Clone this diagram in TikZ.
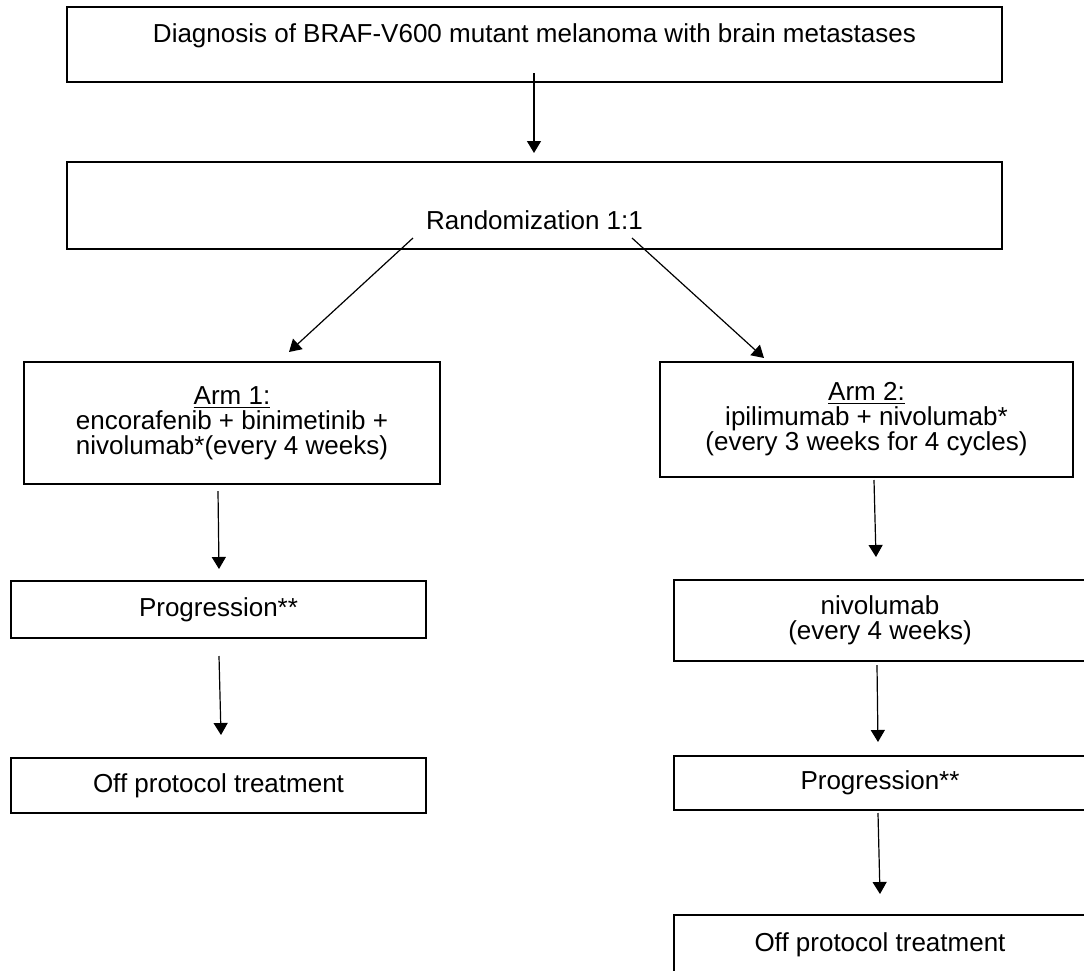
\documentclass[tikz,border=0pt]{standalone}
\usepackage{fontspec}
\setmainfont{Liberation Sans}
\usetikzlibrary{arrows.meta}

\tikzset{
	boite/.style={draw, line width=1pt, inner sep=0pt, align=center},
	fleche/.style={line width=0.6pt, -{Triangle[length=6pt,width=7pt]}}
}

\begin{document}
\begin{tikzpicture}[x=0.5pt, y=-0.5pt, font=\fontsize{13}{12.5}\selectfont]
	\useasboundingbox (0,0) rectangle (1084,971);
	\clip (0,0) rectangle (1084,971);
	% Diagnostic et randomisation
	\node[boite, minimum width=467.5pt, minimum height=37.5pt, text height=9.5pt, text depth=11.6pt] (diag) at (534.5,44.5) {Diagnosis of BRAF-V600 mutant melanoma with brain metastases};
	\node[boite, minimum width=467.5pt, minimum height=43.5pt, text height=26pt, text depth=2pt] (rando) at (534.5,205.5) {Randomization 1:1};
	% Bras 1
	\node[boite, minimum width=208pt, minimum height=61pt] (bras1) at (232,423) {\underline{Arm 1:}\\encorafenib + binimetinib +\\nivolumab*(every 4 weeks)};
	\node[boite, minimum width=207.5pt, minimum height=28.5pt] (prog1) at (218.5,609.5) {Progression**};
	\node[boite, minimum width=207.5pt, minimum height=27.5pt] (hors1) at (218.5,785.5) {Off protocol treatment};
	% Bras 2
	\node[boite, minimum width=206.5pt, minimum height=57.5pt] (bras2) at (866.5,419.5) {\underline{Arm 2:}\\ipilimumab + nivolumab*\\(every 3 weeks for 4 cycles)};
	\node[boite, minimum width=206pt, minimum height=40.5pt] (nivo) at (880,620.5) {nivolumab\\(every 4 weeks)};
	\node[boite, minimum width=206pt, minimum height=27pt] (prog2) at (880,783) {Progression**};
	\node[boite, minimum width=206pt, minimum height=30pt] (hors2) at (880,945) {Off protocol treatment};
	% Fleches
	\coordinate (d1) at (534,73);  \coordinate (f1) at (534,153);
	\coordinate (d2) at (413,238); \coordinate (f2) at (289,352);
	\coordinate (d3) at (632,238); \coordinate (f3) at (764,358);
	\coordinate (d4) at (218,491); \coordinate (f4) at (219,569);
	\coordinate (d5) at (219,656); \coordinate (f5) at (221,735);
	\coordinate (d6) at (874,480); \coordinate (f6) at (876,557);
	\coordinate (d7) at (877,665); \coordinate (f7) at (878,742);
	\coordinate (d8) at (878,813); \coordinate (f8) at (880,894);
	\foreach \n in {1,...,8} {
		\draw[fleche] (d\n) -- (f\n);
	}
\end{tikzpicture}
\end{document}
